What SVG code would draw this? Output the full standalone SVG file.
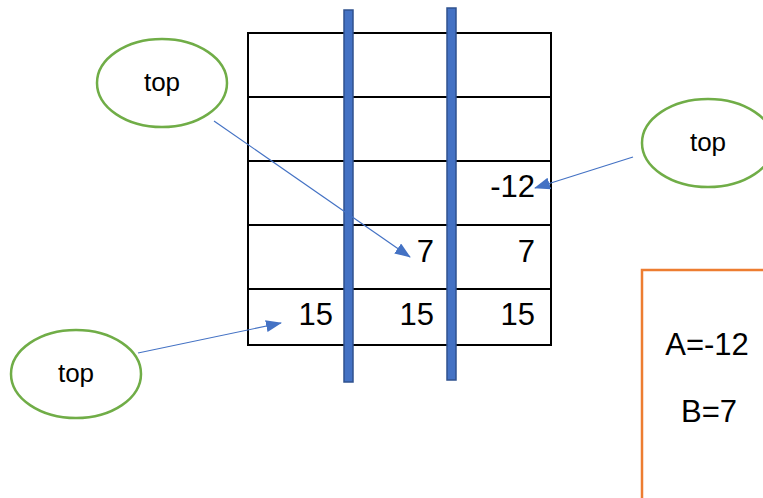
<svg xmlns="http://www.w3.org/2000/svg" width="763" height="498" viewBox="0 0 763 498">
<style>
.grid{fill:none;stroke:#000;stroke-width:2}
.bar{fill:#4472C4;stroke:#2F528F;stroke-width:1.5}
.oval{fill:#fff;stroke:#70AD47;stroke-width:2.5}
.lbl{font-family:"Liberation Sans",Arial,sans-serif;font-size:26px;fill:#000;text-anchor:middle}
.num{font-family:"Liberation Sans",Arial,sans-serif;font-size:31px;fill:#000;text-anchor:end}
.res{font-family:"Liberation Sans",Arial,sans-serif;font-size:31px;fill:#000;text-anchor:middle}
.conn{stroke:#4472C4;stroke-width:1.2;fill:none;marker-end:url(#ah)}
</style>
<defs>
<marker id="ah" markerWidth="16" markerHeight="12" refX="15" refY="6" orient="auto" markerUnits="userSpaceOnUse">
<path d="M0,0 L16,6 L0,12 Z" fill="#4472C4"/>
</marker>
</defs>
<rect width="763" height="498" fill="#fff"/>
<g id="table">
<rect class="grid" x="248" y="33" width="303" height="312"/>
<line class="grid" x1="248" y1="97" x2="551" y2="97"/>
<line class="grid" x1="248" y1="161" x2="551" y2="161"/>
<line class="grid" x1="248" y1="225" x2="551" y2="225"/>
<line class="grid" x1="248" y1="289" x2="551" y2="289"/>
<text class="num" x="535" y="197">-12</text>
<text class="num" x="434" y="262">7</text>
<text class="num" x="535" y="262">7</text>
<text class="num" x="333" y="325">15</text>
<text class="num" x="434" y="325">15</text>
<text class="num" x="535" y="325">15</text>
</g>
<g id="bar1"><rect class="bar" x="344" y="10" width="9" height="372"/></g>
<g id="bar2"><rect class="bar" x="447" y="8" width="9" height="372"/></g>
<g id="top1"><ellipse class="oval" cx="162" cy="83" rx="65" ry="44"/><text class="lbl" x="162" y="91">top</text></g>
<g id="top2"><ellipse class="oval" cx="76" cy="374" rx="65" ry="44"/><text class="lbl" x="76" y="382">top</text></g>
<g id="top3"><ellipse class="oval" cx="708" cy="143" rx="66" ry="44"/><text class="lbl" x="708" y="151">top</text></g>
<g id="result">
<path d="M642,498 L642,270 L770,270" fill="none" stroke="#ED7D31" stroke-width="2.5"/>
<text class="res" x="707" y="355">A=-12</text>
<text class="res" x="709" y="422">B=7</text>
</g>
<g id="connectors">
<line class="conn" x1="214" y1="121" x2="410" y2="257"/>
<line class="conn" x1="138" y1="353" x2="281" y2="323"/>
<line class="conn" x1="633" y1="157" x2="535" y2="188"/>
</g>
</svg>
